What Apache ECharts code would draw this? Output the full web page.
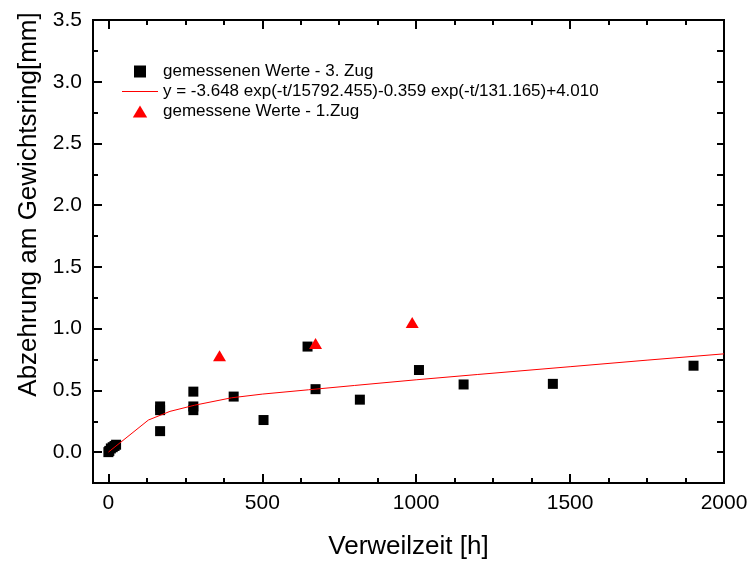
<!DOCTYPE html>
<html>
<head>
<meta charset="utf-8">
<script src="https://cdn.jsdelivr.net/npm/echarts@6/dist/echarts.min.js"></script>
<style>html,body{margin:0;padding:0;background:#fff}#c{width:752px;height:565px}</style>
</head>
<body>
<div id="c"></div>
<script>
// --- data ---
const zug3T = [0, 3, 8, 14, 20, 25, 168, 168, 168, 276, 276, 276, 407, 504, 647, 673, 817, 1009, 1154, 1444, 1901];
const zug3Y = [0.00, 0.01, 0.03, 0.04, 0.05, 0.06, 0.37, 0.34, 0.17, 0.49, 0.37, 0.34, 0.45, 0.26, 0.855, 0.51, 0.425, 0.665, 0.548, 0.553, 0.70];
const zug1T = [361, 673, 987];
const zug1Y = [0.78, 0.88, 1.05];
const fitT = [0, 130, 200, 280, 400, 500, 650, 800, 1000, 1200, 1500, 1750, 2000];
const fitY = [0.00, 0.26, 0.33, 0.38, 0.44, 0.47, 0.505, 0.54, 0.586, 0.629, 0.692, 0.745, 0.796];
const xMajor = [0, 500, 1000, 1500, 2000];
const xMinor = [125, 250, 375, 625, 750, 875, 1125, 1250, 1375, 1625, 1750, 1875];
const yMajor = [0, 0.5, 1.0, 1.5, 2.0, 2.5, 3.0, 3.5];
const yMinor = [0.25, 0.75, 1.25, 1.75, 2.25, 2.75, 3.25];
const names = ['gemessenen Werte - 3. Zug', 'y = -3.648 exp(-t/15792.455)-0.359 exp(-t/131.165)+4.010', 'gemessene Werte - 1.Zug'];
const xTitle = 'Verweilzeit [h]';
const yTitle = 'Abzehrung am Gewichtsring[mm]';

const FONT = 'Liberation Sans, Arial, sans-serif';
const X_MIN = -50, X_MAX = 2000, Y_MIN = -0.25, Y_MAX = 3.5;
const lineBlack = { show: true, onZero: false, lineStyle: { color: '#000', width: 2 } };

function xAx(pos, ticks, len, withLabels) {
  const a = {
    type: 'value', position: pos, min: X_MIN, max: X_MAX,
    axisLine: lineBlack, splitLine: { show: false },
    axisTick: { show: true, inside: true, length: len, customValues: ticks, lineStyle: { color: '#000', width: 2 } },
    axisLabel: { show: false }
  };
  if (withLabels) {
    a.axisLabel = { show: true, customValues: ticks, margin: 10, color: '#000', fontSize: 21, fontFamily: FONT,
      formatter: v => String(Math.round(v)) };
    a.name = xTitle; a.nameLocation = 'middle'; a.nameGap = 51;
    a.nameTextStyle = { fontSize: 26, fontFamily: FONT, color: '#000' };
  }
  return a;
}
function yAx(pos, ticks, len, withLabels) {
  const a = {
    type: 'value', position: pos, min: Y_MIN, max: Y_MAX,
    axisLine: lineBlack, splitLine: { show: false },
    axisTick: { show: true, inside: true, length: len, customValues: ticks, lineStyle: { color: '#000', width: 2 } },
    axisLabel: { show: false }
  };
  if (withLabels) {
    a.axisLabel = { show: true, customValues: ticks, margin: 11, color: '#000', fontSize: 21, fontFamily: FONT,
      formatter: v => Number(v).toFixed(1) };
    a.name = yTitle; a.nameLocation = 'middle'; a.nameGap = 47;
    a.nameTextStyle = { fontSize: 26, fontFamily: FONT, color: '#000', padding: [0, 0, 0, 94] };
  }
  return a;
}

const chart = echarts.init(document.getElementById('c'), null, { renderer: 'canvas' });
chart.setOption({
  animation: false,
  backgroundColor: '#fff',
  grid: { left: 93, right: 28, top: 20, bottom: 78, containLabel: false },
  xAxis: [
    xAx('bottom', xMajor, 9, true),
    xAx('bottom', xMinor, 5, false),
    xAx('top', xMajor, 9, false),
    xAx('top', xMinor, 5, false)
  ],
  yAxis: [
    yAx('left', yMajor, 9, true),
    yAx('left', yMinor, 5, false),
    yAx('right', yMajor, 7, false),
    yAx('right', yMinor, 7, false)
  ],
  legend: {
    orient: 'vertical', left: 122, top: 63, padding: 0, itemWidth: 36, itemHeight: 12, itemGap: 3,
    symbolKeepAspect: true,
    textStyle: { fontSize: 17, fontFamily: FONT, color: '#000' },
    data: [
      { name: names[0], icon: 'path://M0,0L10,0L10,10L0,10Z', itemStyle: { color: '#000', opacity: 1 } },
      { name: names[1], icon: 'path://M0,0L40,0L40,1L0,1Z', itemStyle: { color: '#ff0000', opacity: 1 } },
      { name: names[2], icon: 'path://M6,0L12,10L0,10Z', itemStyle: { color: '#ff0000', opacity: 1 } }
    ]
  },
  series: [
    {
      name: names[0], type: 'scatter', symbol: 'rect', symbolSize: 10,
      itemStyle: { color: '#000', opacity: 1 },
      data: zug3T.map((t, i) => [t, zug3Y[i]]), z: 3
    },
    {
      name: names[1], type: 'line', showSymbol: false, symbol: 'none', smooth: false,
      lineStyle: { color: '#ff0000', width: 1 }, itemStyle: { color: '#ff0000' },
      data: fitT.map((t, i) => [t, fitY[i]]), z: 4
    },
    {
      name: names[2], type: 'scatter', symbol: 'triangle', symbolSize: [13, 11],
      itemStyle: { color: '#ff0000', opacity: 1 },
      data: zug1T.map((t, i) => [t, zug1Y[i]]), z: 5
    }
  ]
});
</script>
</body>
</html>
